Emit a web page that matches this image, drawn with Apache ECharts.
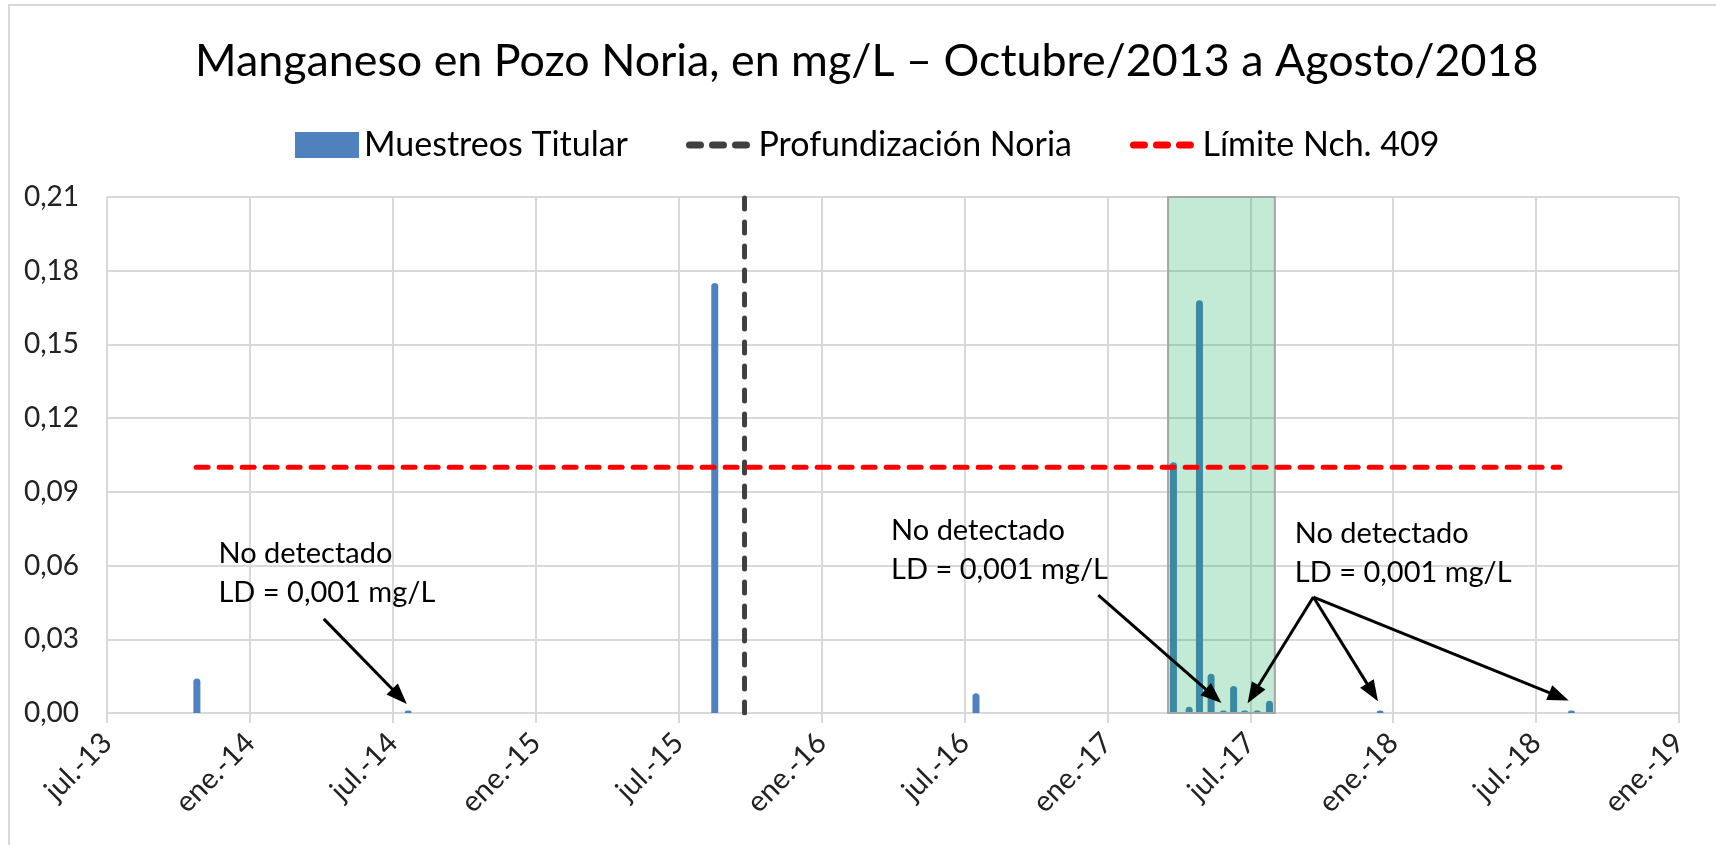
<!DOCTYPE html>
<html lang="es">
<head>
<meta charset="utf-8">
<title>Manganeso en Pozo Noria</title>
<script src="https://cdn.jsdelivr.net/npm/echarts@6/dist/echarts.min.js"></script>
<style>
html, body { margin: 0; padding: 0; background: #fff; }
#chart { width: 1716px; height: 845px; position: relative; }
#marco { position: absolute; left: 8px; top: 4px; right: 0; bottom: -4px; border-left: 2px solid #d9d9d9; border-top: 2px solid #d9d9d9; pointer-events: none; }
</style>
</head>
<body>
<div id="chart"></div>
<div id="marco"></div>
<script>
// muestreos del titular (fecha, Mn en mg/L)
var fechas = ['2013-10-25', '2014-07-21', '2015-08-17', '2016-07-16',
  '2017-03-25', '2017-04-14', '2017-04-27', '2017-05-12', '2017-05-28',
  '2017-06-10', '2017-06-24', '2017-07-10', '2017-07-26',
  '2017-12-15', '2018-08-16'];
var manganeso = [0.014, 0.001, 0.175, 0.008,
  0.102, 0.0025, 0.168, 0.016, 0.001,
  0.011, 0.001, 0.001, 0.005,
  0.001, 0.001];

// profundizacion de la noria
var fechaProfundizacion = '2015-09-24';
// limite NCh 409
var limiteNch = 0.1;
var limiteFechas = ['2013-10-24', '2018-08-01'];
// periodo destacado (verde)
var zonaFechas = ['2017-03-18', '2017-08-02'];

// eje y
var yMax = 0.21, yPaso = 0.03;
// eje x en meses desde jul.-13
var xMax = 66, xPaso = 6;

var textoND = 'No detectado\nLD = 0,001 mg/L';
// anotaciones en [mes, valor]
var notas = [[4.70, 0.0724], [32.94, 0.0818], [49.89, 0.0806]];
var flechas = [
  [[9.10, 0.0383], [12.28, 0.0067]],
  [[41.62, 0.0480], [46.46, 0.0069]],
  [[50.65, 0.0472], [48.12, 0.0076]],
  [[50.65, 0.0472], [53.13, 0.0084]],
  [[50.65, 0.0472], [60.96, 0.0067]]
];

function mes(f) {
  var p = f.split('-');
  var y = +p[0], m = +p[1], d = +p[2];
  var dias = new Date(y, m, 0).getDate();
  return (y - 2013) * 12 + (m - 7) + (d - 1) / dias;
}

var fuente = 'Lato';
var gris = '#d9d9d9';
// estilo de las lineas en la leyenda (sin simbolo)
var lineaLeyenda = function (color) {
  return { lineStyle: { color: color, width: 7, type: [11, 12], cap: 'round' }, itemStyle: { opacity: 0 } };
};

var chart = echarts.init(document.getElementById('chart'));
chart.setOption({
  animation: false,
  backgroundColor: '#fff',
  textStyle: { fontFamily: fuente },
  title: {
    text: 'Manganeso en Pozo Noria, en mg/L – Octubre/2013 a Agosto/2018',
    left: 190,
    top: 34,
    textStyle: { fontFamily: fuente, fontSize: 44.8, fontWeight: 'normal', color: '#000' }
  },
  legend: {
    top: 123,
    left: 290,
    itemWidth: 64,
    itemHeight: 26,
    itemGap: 58,
    textStyle: { fontFamily: fuente, fontSize: 34, color: '#000' },
    data: [
      { name: 'Muestreos Titular', icon: 'rect' },
      Object.assign({ name: 'Profundización Noria' }, lineaLeyenda('#404040')),
      Object.assign({ name: 'Límite Nch. 409' }, lineaLeyenda('#ff0000'))
    ]
  },
  grid: { left: 107, right: 37, top: 197, bottom: 132, outerBoundsMode: 'none' },
  xAxis: {
    type: 'value',
    min: 0,
    max: xMax,
    interval: xPaso,
    axisLine: { show: true, lineStyle: { color: gris, width: 2 } },
    axisTick: { show: true, length: 10, lineStyle: { color: gris, width: 2 } },
    splitLine: { show: true, lineStyle: { color: gris, width: 2 } },
    axisLabel: {
      rotate: 45,
      margin: 25,
      fontSize: 29,
      color: '#222',
      fontFamily: fuente,
      showMinLabel: true,
      showMaxLabel: true,
      formatter: function (v) {
        var k = Math.round(v);
        var yy = 13 + Math.floor((k + 6) / 12);
        return (k % 12 === 0 ? 'jul.-' : 'ene.-') + yy;
      }
    }
  },
  yAxis: {
    type: 'value',
    min: 0,
    max: yMax,
    interval: yPaso,
    axisLine: { show: false },
    axisTick: { show: false },
    splitLine: { show: true, lineStyle: { color: gris, width: 2 } },
    axisLabel: {
      margin: 28,
      fontSize: 28,
      color: '#222',
      fontFamily: fuente,
      formatter: function (v) { return v.toFixed(2).replace('.', ','); }
    }
  },
  series: [
    {
      name: 'Muestreos Titular',
      type: 'bar',
      barWidth: 7,
      itemStyle: { color: '#4f81bd', borderRadius: [3.5, 3.5, 0, 0] },
      data: fechas.map(function (f, i) { return [mes(f), manganeso[i]]; }),
      markArea: {
        silent: true,
        z: 3,
        itemStyle: { color: 'rgba(0,167,79,0.24)', borderColor: '#a6a6a6', borderWidth: 2 },
        data: [[{ coord: [mes(zonaFechas[0]), 0] }, { coord: [mes(zonaFechas[1]), yMax] }]]
      },
      markLine: {
        silent: true,
        z: 6,
        symbol: ['none', 'triangle'],
        symbolSize: [16, 21],
        label: { show: false },
        lineStyle: { color: '#000', width: 3, type: 'solid' },
        data: flechas.map(function (a) { return [{ coord: a[0] }, { coord: a[1] }]; })
      },
      markPoint: {
        silent: true,
        z: 6,
        symbol: 'rect',
        symbolSize: 1,
        itemStyle: { color: 'rgba(0,0,0,0)' },
        label: {
          show: true,
          position: [0, 0],
          align: 'left',
          verticalAlign: 'top',
          fontFamily: fuente,
          fontSize: 29,
          lineHeight: 39,
          color: '#000',
          formatter: function () { return textoND; }
        },
        data: notas.map(function (c) { return { coord: c }; })
      }
    },
    {
      name: 'Profundización Noria',
      type: 'line',
      symbol: 'none',
      lineStyle: { color: '#404040', width: 5, type: [11, 13], cap: 'round' },
      itemStyle: { color: '#404040' },
      data: [[mes(fechaProfundizacion), 0], [mes(fechaProfundizacion), yMax]]
    },
    {
      name: 'Límite Nch. 409',
      type: 'line',
      symbol: 'none',
      lineStyle: { color: '#ff0000', width: 5, type: [12, 11], cap: 'round' },
      itemStyle: { color: '#ff0000' },
      data: [[mes(limiteFechas[0]), limiteNch], [mes(limiteFechas[1]), limiteNch]]
    }
  ]
});
</script>
</body>
</html>
